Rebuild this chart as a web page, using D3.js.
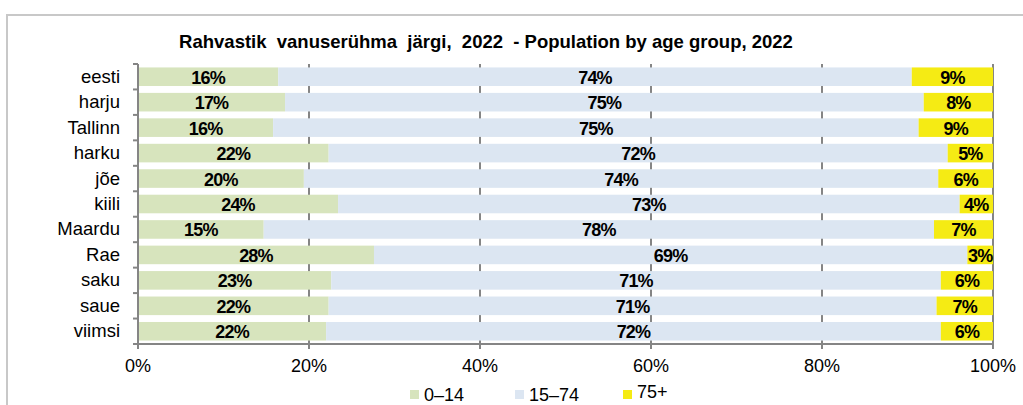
<!DOCTYPE html>
<html><head><meta charset="utf-8">
<script src="https://cdn.jsdelivr.net/npm/d3@7"></script>
<style>body{margin:0;background:#fff;}svg{display:block;font-family:"Liberation Sans",Arial,sans-serif;}text{white-space:pre;}</style>
</head><body>
<script>
const categories = ["eesti","harju","Tallinn","harku","jõe","kiili","Maardu","Rae","saku","saue","viimsi"];
const age0_14  = [16.4,17.2,15.8,22.3,19.4,23.4,14.7,27.6,22.6,22.3,22.0];
const age15_74 = [74.1,74.7,75.5,72.4,74.2,72.7,78.4,69.4,71.3,71.1,71.9];
const age75    = [9.5,8.1,8.7,5.3,6.4,3.9,6.9,3.0,6.1,6.6,6.1];
const labels0  = ["16%","17%","16%","22%","20%","24%","15%","28%","23%","22%","22%"];
const labels1  = ["74%","75%","75%","72%","74%","73%","78%","69%","71%","71%","72%"];
const labels2  = ["9%","8%","9%","5%","6%","4%","7%","3%","6%","7%","6%"];
const seriesNames = ["0–14","15–74","75+"];
const tickValues = [0,20,40,60,80,100];
const title = "Rahvastik  vanuserühma  järgi,  2022  - Population by age group, 2022";

const colors = ["#d7e4bd","#dce6f2","#f5eb14"];
const W = 1023, H = 405;
const svg = d3.select("body").append("svg").attr("width",W).attr("height",H);

// frame
svg.append("rect").attr("x",7).attr("y",15).attr("width",1030).attr("height",420)
  .attr("fill","none").attr("stroke","#c8c8c8").attr("stroke-width",2);

const x = d3.scaleLinear().domain([0,100]).range([138,993]);
const y = d3.scaleBand().domain(categories).range([64,344]).paddingInner(0.27).paddingOuter(0.135);

// title
svg.append("text").attr("x",486).attr("y",48).attr("text-anchor","middle")
  .attr("font-weight","bold").attr("font-size",18.5).attr("fill","#000").text(title);

// gridlines
svg.append("g").selectAll("line").data(tickValues.slice(1)).join("line")
  .attr("x1",d=>x(d)).attr("x2",d=>x(d)).attr("y1",64).attr("y2",344)
  .attr("stroke","#858585").attr("stroke-width",2);

// stacked data
const rows = categories.map((c,i)=>({cat:c, a:age0_14[i], b:age15_74[i], c:age75[i]}));
const stack = d3.stack().keys(["a","b","c"])(rows);
const lbls = [labels0,labels1,labels2];

stack.forEach((s,k)=>{
  svg.append("g").selectAll("rect").data(s).join("rect")
    .attr("x",d=>x(d[0])).attr("width",d=>x(d[1])-x(d[0]))
    .attr("y",d=>y(d.data.cat)).attr("height",y.bandwidth())
    .attr("fill",colors[k]);
});
stack.forEach((s,k)=>{
  svg.append("g").selectAll("text").data(s).join("text")
    .attr("x",d=>(x(d[0])+x(d[1]))/2)
    .attr("y",d=>y(d.data.cat)+y.bandwidth()/2+7)
    .attr("text-anchor","middle").attr("font-weight","bold").attr("font-size",18)
    .attr("letter-spacing",-0.8)
    .text((d,i)=>lbls[k][i]);
});

// y axis
const yAxis = svg.append("g");
yAxis.append("line").attr("x1",138).attr("x2",138).attr("y1",64).attr("y2",344)
  .attr("stroke","#858585").attr("stroke-width",2);
const bounds = categories.map(c=>y(c)-y.step()*y.paddingInner()/2).concat([344]);
yAxis.selectAll("line.t").data(bounds).join("line").attr("class","t")
  .attr("x1",133).attr("x2",138).attr("y1",d=>d).attr("y2",d=>d)
  .attr("stroke","#858585").attr("stroke-width",2);
yAxis.selectAll("text").data(categories).join("text")
  .attr("x",120).attr("y",d=>y(d)+y.bandwidth()/2+6)
  .attr("text-anchor","end").attr("font-size",18.5).attr("fill","#000").text(d=>d);

// x axis
const xAxis = svg.append("g");
xAxis.append("line").attr("x1",133).attr("x2",993).attr("y1",344).attr("y2",344)
  .attr("stroke","#858585").attr("stroke-width",2);
xAxis.selectAll("line.t").data(tickValues).join("line").attr("class","t")
  .attr("x1",d=>x(d)).attr("x2",d=>x(d)).attr("y1",344).attr("y2",349)
  .attr("stroke","#858585").attr("stroke-width",2);
xAxis.selectAll("text").data(tickValues).join("text")
  .attr("x",d=>x(d)).attr("y",372).attr("text-anchor","middle")
  .attr("font-size",18).attr("fill","#000").text(d=>d+"%");

// legend
const legX = [410,515,623];
const leg = svg.append("g");
seriesNames.forEach((n,i)=>{
  leg.append("rect").attr("x",legX[i]).attr("y",390).attr("width",9).attr("height",9).attr("fill",colors[i]);
  leg.append("text").attr("x",legX[i]+14).attr("y",i==2?398:401).attr("font-size",18).attr("fill","#000").text(n);
});
</script>
</body></html>
